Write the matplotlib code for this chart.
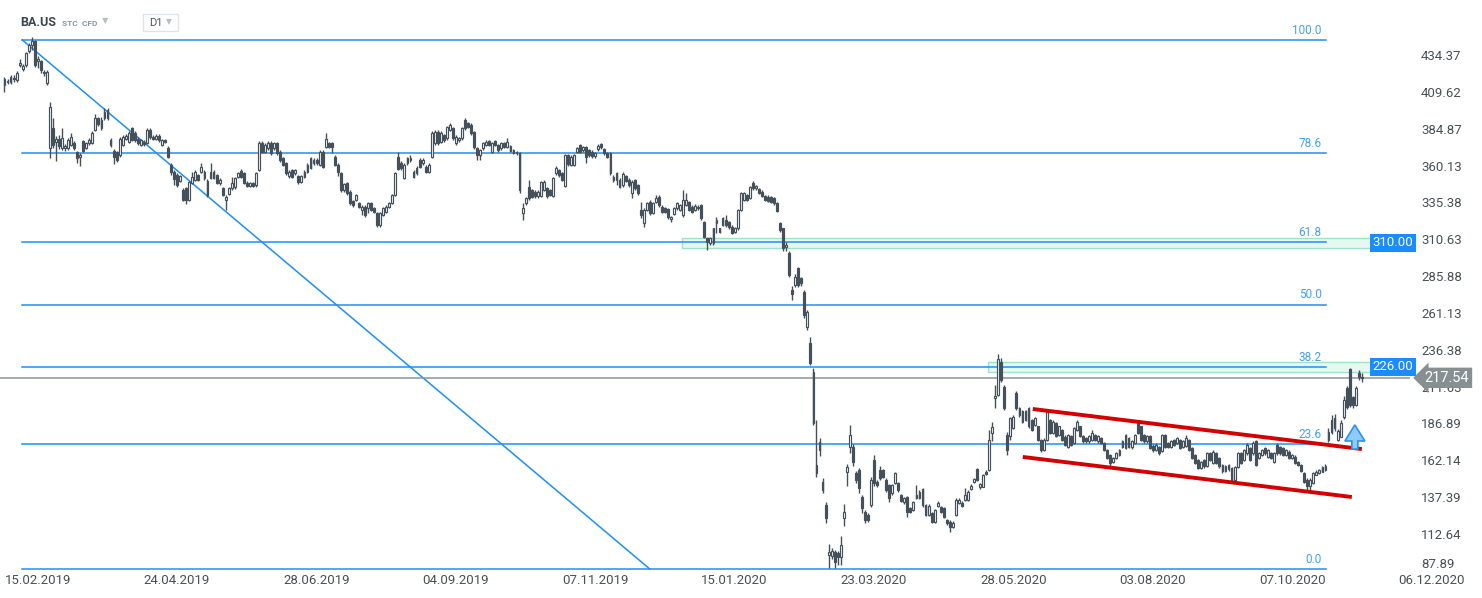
import numpy as np
import matplotlib
matplotlib.use("Agg")
import matplotlib.pyplot as plt
from matplotlib.patches import Rectangle, Polygon

plt.rcParams['font.family'] = ['Roboto', 'DejaVu Sans']

# BA.US daily candles (15.02.2019 .. late 11.2020)
opens = [
    414.2, 416.1, 416.5, 419.0, 417.5, 427.7, 425.0, 427.7, 437.0, 441.0,
    443.5, 430.0, 430.0, 422.5, 415.8, 371.7, 385.4, 376.0, 378.0, 371.7,
    372.0, 372.0, 374.0, 375.0, 369.0, 366.0, 376.5, 372.0, 375.0, 375.3,
    384.0, 392.0, 385.0, 392.0, 397.4, 377.0, 370.0, 369.0, 367.0, 374.0,
    378.0, 376.0, 385.0, 382.0, 378.0, 374.0, 376.0, 375.3, 384.0, 379.0,
    378.0, 380.0, 374.0, 377.0, 372.0, 360.5, 356.0, 354.0, 350.0, 343.7,
    344.8, 337.0, 348.2, 350.4, 353.8, 356.0, 356.0, 350.0, 352.0, 356.0,
    353.8, 348.2, 344.8, 337.0, 341.0, 344.8, 345.5, 352.2, 356.7, 354.9,
    348.6, 346.4, 348.2, 347.0, 357.2, 375.0, 369.5, 371.7, 375.5, 371.7,
    375.0, 369.4, 365.0, 361.6, 353.1, 357.2, 354.9, 353.0, 349.3, 352.2,
    356.0, 358.3, 361.6, 363.8, 360.5, 369.4, 372.8, 375.0, 375.0, 366.1,
    360.5, 354.9, 343.7, 348.2, 342.5, 336.0, 337.0, 334.7, 330.3, 332.5,
    331.4, 334.7, 331.4, 328.0, 320.2, 326.9, 329.1, 332.5, 334.7, 340.3,
    366.0, 362.0, 352.0, 361.6, 363.9, 356.0, 354.9, 363.9, 361.6, 359.4,
    356.0, 366.1, 375.0, 382.9, 376.2, 380.6, 378.4, 384.0, 385.1, 375.0,
    377.3, 378.4, 390.7, 388.5, 387.4, 382.9, 371.7, 367.2, 371.7, 373.9,
    376.8, 369.4, 376.8, 373.9, 371.7, 375.0, 372.8, 373.3, 368.8, 369.4,
    368.8, 328.0, 335.2, 345.4, 343.7, 342.6, 339.7, 339.7, 343.7, 344.8,
    343.7, 339.7, 354.9, 357.2, 354.9, 346.4, 367.2, 360.5, 360.5, 369.4,
    373.9, 370.6, 372.8, 370.6, 369.4, 366.5, 371.0, 374.6, 371.0, 368.3,
    368.3, 350.4, 354.9, 350.4, 347.0, 353.3, 350.4, 341.5, 350.4, 347.0,
    330.3, 321.3, 330.3, 335.9, 328.0, 335.9, 339.2, 332.5, 331.4, 330.7,
    324.0, 327.6, 331.4, 330.3, 327.0, 333.6, 335.9, 332.5, 330.3, 331.4,
    333.6, 322.4, 311.2, 307.9, 307.9, 321.3, 317.9, 324.7, 323.5, 322.4,
    319.1, 315.7, 317.9, 330.3, 337.0, 340.3, 338.1, 348.2, 344.8, 344.1,
    342.6, 339.7, 339.2, 338.8, 338.1, 334.7, 321.3, 317.9, 305.6, 301.2,
    276.5, 279.9, 291.0, 284.4, 275.4, 252.0, 240.7, 221.7, 159.0, 174.7,
    147.8, 132.1, 98.5, 98.0, 100.8, 99.6, 97.4, 123.2, 154.5, 171.3,
    171.3, 153.4, 155.6, 137.7, 127.6, 125.4, 132.1, 162.3, 147.8, 155.6,
    155.6, 148.9, 145.6, 139.9, 146.7, 146.7, 138.8, 134.4, 137.7, 129.9,
    128.8, 136.6, 136.6, 142.7, 132.1, 125.4, 126.5, 121.0, 131.5, 131.0,
    129.9, 122.1, 121.0, 117.1, 125.4, 133.3, 133.7, 135.5, 135.5, 142.7,
    147.8, 156.1, 144.0, 144.5, 154.5, 155.6, 180.4, 203.9, 206.0, 228.0,
    211.7, 179.3, 178.2, 184.0, 207.3, 197.2, 195.0, 189.3, 197.2, 189.3,
    186.0, 184.9, 175.9, 169.2, 175.9, 189.3, 180.4, 187.1, 179.3, 182.6,
    178.0, 171.4, 178.2, 173.7, 182.6, 184.9, 178.2, 177.0, 174.8, 175.9,
    179.3, 174.8, 177.0, 173.7, 169.2, 165.8, 161.3, 163.6, 165.8, 171.4,
    170.3, 177.0, 170.9, 173.7, 188.2, 184.9, 179.3, 174.8, 178.2, 172.0,
    169.2, 171.4, 168.6, 179.3, 173.7, 171.4, 175.9, 173.7, 175.9, 171.4,
    172.0, 175.9, 170.3, 165.8, 162.5, 156.9, 162.5, 158.0, 166.9, 160.2,
    166.9, 163.6, 159.1, 154.7, 156.0, 156.9, 149.0, 157.9, 166.9, 162.5,
    166.9, 170.3, 166.9, 174.8, 163.6, 165.8, 170.3, 164.7, 166.9, 161.3,
    172.5, 171.4, 170.3, 165.8, 168.0, 163.6, 164.7, 161.0, 159.1, 153.5,
    149.0, 144.6, 146.8, 152.4, 153.5, 154.6, 155.8, 176.0, 189.3, 190.5,
    176.0, 178.0, 191.3, 210.7, 223.3, 204.7, 199.3, 220.8, 218.4,
]
highs = [
    419.6, 418.5, 420.8, 421.0, 423.6, 431.5, 428.4, 436.6, 442.5, 446.4,
    444.5, 433.5, 431.0, 424.5, 424.0, 403.0, 392.0, 380.0, 380.5, 385.0,
    374.5, 378.5, 382.0, 376.5, 370.0, 368.5, 377.5, 376.0, 378.5, 383.0,
    395.0, 393.0, 392.5, 399.0, 398.5, 378.5, 371.5, 370.0, 379.0, 380.5,
    381.5, 383.0, 386.0, 383.0, 379.0, 378.0, 377.0, 385.0, 385.0, 380.5,
    381.0, 381.0, 378.0, 378.0, 373.0, 362.0, 357.0, 355.0, 354.0, 345.0,
    345.5, 350.0, 356.0, 357.0, 354.5, 362.0, 357.0, 351.0, 362.0, 357.0,
    354.5, 351.5, 345.5, 340.0, 345.5, 352.6, 352.5, 356.0, 357.5, 355.5,
    349.5, 349.0, 349.0, 356.0, 376.5, 376.5, 375.0, 376.5, 376.5, 376.0,
    376.0, 370.5, 366.0, 362.5, 357.0, 358.0, 358.0, 354.0, 354.0, 357.0,
    361.5, 366.0, 365.0, 365.0, 370.5, 370.5, 381.8, 376.0, 376.0, 367.0,
    361.5, 355.5, 348.5, 349.0, 343.5, 337.0, 341.0, 335.5, 333.5, 333.5,
    335.5, 335.5, 332.5, 329.0, 329.0, 332.5, 333.5, 335.5, 341.0, 356.0,
    369.4, 363.0, 361.5, 366.0, 367.0, 357.0, 359.5, 365.0, 365.0, 360.5,
    361.5, 383.0, 384.0, 384.0, 383.0, 381.5, 387.0, 389.0, 386.0, 380.5,
    379.5, 386.0, 392.0, 389.5, 388.5, 383.5, 372.5, 371.5, 376.0, 377.5,
    377.5, 376.0, 377.5, 374.5, 376.0, 376.0, 378.4, 374.0, 371.5, 370.0,
    369.5, 334.7, 339.0, 350.4, 344.5, 343.5, 343.5, 350.0, 350.5, 345.5,
    344.5, 352.5, 359.5, 358.0, 355.5, 368.0, 368.0, 367.0, 368.0, 372.5,
    374.5, 373.5, 373.5, 371.5, 370.5, 369.5, 374.5, 375.5, 372.0, 369.0,
    369.0, 353.5, 356.0, 351.5, 355.5, 354.0, 351.5, 350.5, 351.0, 348.0,
    335.9, 331.5, 335.5, 337.0, 335.5, 340.3, 340.0, 333.5, 332.0, 331.5,
    326.5, 332.5, 335.5, 334.5, 343.7, 341.5, 336.5, 333.5, 334.0, 333.5,
    334.5, 323.0, 312.0, 312.0, 318.5, 325.8, 318.5, 325.5, 327.0, 323.0,
    320.0, 319.0, 331.0, 342.5, 342.5, 341.0, 346.5, 349.5, 347.0, 345.0,
    343.5, 340.5, 340.0, 339.5, 338.8, 335.5, 322.0, 318.5, 308.5, 303.0,
    279.0, 287.0, 292.0, 285.5, 276.5, 263.0, 245.0, 224.0, 189.2, 177.0,
    150.0, 134.0, 106.0, 103.0, 102.0, 101.0, 111.0, 133.0, 160.0, 185.9,
    173.0, 155.0, 157.0, 139.0, 128.5, 126.5, 151.0, 166.0, 149.0, 158.0,
    156.5, 150.0, 146.5, 146.5, 154.5, 147.5, 139.5, 137.5, 138.5, 130.5,
    135.0, 145.6, 142.0, 143.5, 133.0, 132.5, 127.5, 129.5, 135.0, 131.5,
    130.5, 123.0, 122.0, 121.5, 136.5, 136.5, 134.5, 143.3, 142.0, 146.0,
    150.5, 157.0, 147.0, 153.0, 155.5, 182.5, 188.0, 213.0, 233.7, 230.8,
    213.0, 181.0, 191.5, 192.5, 208.5, 198.0, 196.0, 196.0, 198.0, 190.0,
    191.5, 185.5, 176.5, 177.0, 196.0, 190.0, 189.0, 188.0, 185.5, 183.5,
    179.0, 180.0, 179.0, 184.5, 189.0, 185.5, 179.0, 178.0, 179.0, 182.6,
    180.0, 179.0, 178.0, 174.5, 170.0, 166.5, 164.5, 167.5, 170.0, 175.5,
    180.0, 177.5, 175.5, 180.0, 189.5, 185.5, 180.0, 179.0, 179.0, 173.0,
    173.5, 172.0, 180.0, 180.0, 174.5, 175.5, 176.5, 178.0, 176.5, 175.5,
    179.3, 176.5, 171.0, 166.5, 163.0, 162.0, 163.0, 167.5, 167.5, 169.0,
    167.5, 164.5, 160.0, 159.0, 160.0, 157.5, 158.5, 167.5, 167.5, 170.0,
    173.5, 171.0, 175.0, 175.5, 167.5, 170.0, 171.0, 170.0, 167.5, 167.5,
    173.5, 172.0, 171.0, 170.0, 169.0, 166.5, 165.5, 162.0, 160.0, 154.5,
    150.0, 150.0, 154.5, 155.5, 156.5, 158.5, 159.5, 183.8, 192.7, 193.0,
    183.0, 189.0, 205.0, 212.0, 224.0, 205.5, 212.0, 222.5, 220.5,
]
lows = [
    409.5, 414.8, 415.2, 416.5, 416.4, 426.3, 423.8, 426.5, 435.6, 438.0,
    426.0, 425.5, 422.5, 420.5, 414.5, 365.0, 371.7, 363.0, 371.5, 370.5,
    370.0, 370.8, 373.0, 370.5, 362.0, 360.0, 369.0, 371.0, 374.0, 374.5,
    383.0, 386.5, 384.0, 391.0, 390.5, 372.5, 361.0, 362.5, 366.0, 373.0,
    377.0, 375.0, 376.5, 376.0, 374.0, 373.0, 373.5, 374.5, 378.0, 377.0,
    377.0, 376.0, 373.0, 375.0, 365.0, 353.8, 347.0, 346.0, 349.0, 336.0,
    334.0, 336.0, 347.5, 349.5, 349.5, 355.0, 350.5, 339.0, 351.0, 351.0,
    347.5, 347.0, 339.5, 330.0, 340.0, 344.0, 344.5, 351.5, 351.5, 347.5,
    345.5, 345.5, 345.5, 346.0, 356.5, 368.5, 368.5, 370.5, 367.5, 370.5,
    367.0, 362.5, 359.5, 353.5, 352.0, 351.5, 354.0, 348.0, 348.5, 351.5,
    355.0, 357.5, 360.5, 360.5, 359.5, 358.5, 372.0, 372.0, 368.3, 359.5,
    353.0, 342.5, 342.5, 340.5, 333.5, 332.5, 336.0, 331.5, 326.9, 325.5,
    328.0, 329.5, 328.0, 319.0, 319.0, 326.0, 328.0, 331.5, 334.0, 339.5,
    357.0, 357.0, 351.0, 360.5, 362.5, 351.5, 354.0, 358.5, 360.5, 355.0,
    355.0, 365.0, 374.0, 374.0, 375.0, 376.0, 377.5, 383.0, 377.0, 374.0,
    376.0, 377.5, 384.0, 385.0, 380.5, 371.5, 363.8, 363.8, 370.5, 373.0,
    373.0, 368.5, 373.0, 369.5, 370.5, 372.0, 372.0, 369.0, 368.0, 367.5,
    342.0, 323.5, 333.6, 337.0, 338.0, 338.5, 338.5, 339.0, 343.0, 338.5,
    339.5, 339.0, 354.0, 352.5, 349.5, 345.5, 360.0, 359.5, 359.5, 368.5,
    368.5, 369.5, 361.6, 366.0, 365.5, 365.5, 370.0, 371.5, 367.5, 365.0,
    354.0, 349.0, 347.0, 345.0, 346.0, 349.0, 346.0, 338.1, 344.0, 340.5,
    325.0, 319.0, 329.5, 327.0, 327.5, 335.0, 332.5, 328.0, 328.0, 324.5,
    322.5, 327.0, 330.5, 329.5, 325.8, 333.0, 329.5, 328.0, 329.5, 330.5,
    323.5, 311.5, 303.4, 306.5, 307.0, 314.6, 314.5, 319.5, 319.0, 317.5,
    314.0, 314.5, 317.0, 329.5, 336.0, 336.0, 337.5, 344.0, 344.0, 341.0,
    339.0, 336.0, 335.5, 335.0, 333.5, 329.0, 315.5, 303.0, 303.0, 285.0,
    270.0, 278.5, 278.5, 279.5, 258.0, 249.7, 226.0, 186.0, 151.0, 165.0,
    140.0, 120.0, 89.5, 96.0, 90.0, 92.0, 92.0, 118.0, 145.0, 167.0,
    158.0, 147.0, 140.0, 127.0, 120.0, 121.0, 131.0, 145.0, 144.0, 149.0,
    150.0, 141.0, 134.0, 139.0, 146.0, 141.0, 134.0, 133.0, 124.3, 126.5,
    128.0, 136.0, 136.0, 131.0, 124.5, 124.5, 120.0, 120.0, 130.5, 126.5,
    123.5, 118.5, 114.2, 116.5, 124.5, 132.5, 130.5, 135.0, 134.5, 142.0,
    147.0, 148.0, 142.7, 144.0, 152.0, 155.0, 175.0, 197.2, 205.0, 214.5,
    196.0, 165.8, 176.0, 183.0, 196.0, 191.5, 187.0, 188.5, 184.0, 181.5,
    185.0, 175.0, 168.0, 168.5, 175.0, 179.5, 179.5, 177.5, 178.5, 175.0,
    171.5, 170.5, 171.5, 173.0, 182.0, 177.5, 174.0, 174.0, 174.0, 175.0,
    175.0, 174.0, 173.0, 168.5, 163.0, 157.4, 160.5, 163.0, 165.0, 170.5,
    169.5, 170.3, 170.0, 173.0, 179.5, 175.0, 174.0, 174.0, 169.5, 168.0,
    168.5, 166.0, 168.0, 170.5, 170.5, 170.5, 171.5, 173.0, 169.5, 170.5,
    171.0, 168.5, 163.0, 159.5, 156.0, 156.0, 157.0, 157.5, 161.5, 159.5,
    159.5, 157.0, 153.5, 154.0, 155.0, 147.9, 146.8, 157.0, 159.5, 162.0,
    166.0, 161.5, 166.0, 158.0, 163.0, 165.0, 166.0, 164.0, 163.0, 160.5,
    166.0, 166.0, 165.0, 165.0, 163.0, 163.0, 159.5, 158.0, 154.0, 147.0,
    141.2, 141.5, 146.0, 152.0, 153.0, 154.0, 155.0, 174.5, 180.0, 182.0,
    175.0, 177.5, 190.0, 196.5, 198.0, 197.5, 198.5, 216.0, 214.5,
]
closes = [
    418.3, 417.1, 419.5, 418.0, 422.5, 429.2, 427.0, 435.5, 441.0, 444.0,
    427.7, 432.0, 424.0, 423.0, 423.2, 399.6, 374.0, 378.0, 373.0, 378.4,
    373.0, 377.0, 379.0, 372.0, 365.0, 367.0, 370.0, 375.0, 377.0, 382.0,
    392.0, 388.0, 391.0, 396.0, 392.0, 374.0, 366.0, 364.0, 378.0, 379.0,
    380.0, 382.0, 377.5, 377.0, 375.0, 377.0, 374.5, 384.0, 379.0, 378.0,
    380.0, 377.0, 377.0, 376.0, 366.0, 356.0, 351.0, 347.0, 353.0, 337.0,
    337.0, 349.3, 352.6, 356.0, 350.4, 359.4, 351.5, 340.3, 356.0, 352.0,
    348.2, 350.4, 340.3, 339.2, 344.8, 348.2, 351.5, 354.9, 352.6, 348.2,
    346.4, 348.2, 346.4, 355.3, 375.0, 369.5, 374.0, 375.5, 368.8, 375.0,
    368.3, 363.8, 360.5, 354.9, 356.0, 352.6, 357.2, 349.3, 353.1, 356.0,
    360.5, 365.0, 363.8, 361.6, 369.4, 359.4, 377.7, 372.8, 372.8, 360.5,
    356.0, 343.7, 347.5, 341.5, 334.7, 333.6, 340.3, 332.5, 332.5, 326.9,
    334.7, 330.3, 329.1, 320.2, 328.0, 331.4, 332.5, 334.7, 340.3, 354.9,
    358.0, 358.3, 360.5, 364.9, 365.0, 352.6, 358.3, 359.4, 363.9, 356.0,
    360.5, 381.8, 382.9, 375.0, 381.8, 377.3, 386.2, 387.4, 378.4, 379.5,
    378.4, 385.1, 385.1, 386.2, 381.8, 372.5, 367.2, 370.6, 375.0, 376.2,
    373.9, 375.0, 373.9, 370.6, 375.0, 372.8, 376.2, 370.1, 370.6, 368.3,
    343.7, 331.4, 338.1, 338.1, 339.2, 339.7, 342.6, 349.3, 349.3, 339.7,
    340.3, 351.5, 358.3, 353.8, 350.4, 367.2, 360.9, 366.1, 367.2, 371.7,
    369.4, 372.8, 366.1, 367.2, 366.5, 368.3, 373.3, 372.8, 368.3, 366.1,
    354.9, 352.6, 350.4, 345.9, 354.4, 350.0, 347.0, 349.3, 344.8, 341.5,
    326.9, 330.3, 334.7, 328.0, 334.7, 338.1, 333.6, 329.1, 329.1, 325.8,
    325.8, 331.4, 334.7, 333.6, 337.0, 337.0, 330.3, 329.1, 332.9, 332.5,
    324.7, 312.3, 309.0, 311.2, 317.9, 323.5, 315.7, 320.2, 320.2, 318.6,
    315.1, 317.9, 330.3, 341.5, 341.5, 337.0, 345.9, 344.8, 346.4, 341.9,
    339.7, 337.0, 336.5, 335.9, 334.7, 329.8, 316.8, 304.5, 307.0, 286.6,
    273.8, 285.5, 279.9, 281.0, 259.7, 262.0, 227.3, 187.0, 153.4, 169.1,
    142.2, 123.2, 100.8, 101.0, 94.1, 97.4, 105.3, 127.6, 157.9, 179.2,
    161.2, 148.9, 143.3, 129.9, 122.1, 122.1, 148.9, 146.7, 145.6, 150.0,
    151.2, 142.2, 136.6, 145.6, 153.4, 142.2, 135.0, 136.6, 127.7, 127.7,
    134.4, 138.8, 141.1, 132.1, 125.4, 131.5, 121.0, 128.8, 133.7, 127.7,
    124.3, 119.8, 117.6, 120.3, 135.5, 135.5, 131.5, 138.8, 141.1, 144.9,
    149.4, 148.9, 146.2, 152.3, 152.7, 176.0, 184.4, 205.0, 230.5, 216.2,
    197.2, 169.2, 190.5, 191.0, 197.2, 192.7, 188.2, 195.0, 184.9, 182.6,
    190.5, 175.9, 169.2, 176.0, 194.9, 180.4, 188.2, 178.2, 184.9, 175.9,
    172.5, 179.3, 172.5, 183.8, 188.2, 178.2, 174.8, 175.0, 178.2, 180.4,
    175.9, 178.2, 173.7, 169.2, 163.6, 160.2, 163.6, 166.9, 169.2, 174.8,
    179.3, 171.0, 174.8, 179.3, 180.4, 175.9, 174.8, 178.2, 170.3, 169.2,
    172.5, 166.9, 179.3, 171.4, 171.4, 174.8, 172.5, 177.1, 170.3, 174.8,
    176.9, 169.2, 163.6, 160.2, 156.9, 161.3, 158.0, 166.9, 162.5, 168.0,
    160.2, 158.0, 154.7, 158.0, 159.0, 149.0, 157.9, 166.9, 160.2, 169.2,
    172.5, 162.5, 173.7, 159.1, 166.9, 169.2, 167.0, 169.2, 163.6, 166.9,
    166.9, 166.9, 165.8, 169.2, 163.6, 165.8, 160.2, 159.1, 154.7, 147.9,
    145.0, 149.0, 153.5, 154.6, 155.8, 157.9, 158.5, 181.0, 181.3, 183.8,
    182.0, 187.3, 202.7, 198.0, 199.3, 199.3, 210.7, 218.1, 217.54,
]

price_ticks = [434.37, 409.62, 384.87, 360.13, 335.38, 310.63, 285.88, 261.13,
               236.38, 211.63, 186.89, 162.14, 137.39, 112.64, 87.89]
date_labels = ['15.02.2019', '24.04.2019', '28.06.2019', '04.09.2019', '07.11.2019',
               '15.01.2020', '23.03.2020', '28.05.2020', '03.08.2020', '07.10.2020',
               '06.12.2020']
fib_ratios = [100.0, 78.6, 61.8, 50.0, 38.2, 23.6, 0.0]
fib_high = 444.4
fib_low = 89.1
zone_bounds = [(304.8, 311.5), (221.5, 228.2)]
zone_starts = [223.6, 324.6]
zone_labels = ['310.00', '226.00']
last_price = 217.54
channel_upper = [(339.4, 196.6), (448.0, 169.7)]
channel_lower = [(336.1, 164.4), (444.7, 137.5)]


def draw_candles(ax):
    o = np.array(opens)
    c = np.array(closes)
    h = np.maximum(np.array(highs), np.maximum(o, c))
    l = np.minimum(np.array(lows), np.minimum(o, c))
    idx = np.arange(len(c))
    dark = '#44515a'
    up = c >= o
    ax.vlines(idx, l, h, color=dark, lw=1.0, zorder=3)
    bottom = np.minimum(o, c)
    height = np.maximum(np.abs(c - o), 0.5)
    ax.bar(idx, height, width=0.62, bottom=bottom,
           color=np.where(up, 'white', dark), edgecolor=dark, linewidth=0.85, zorder=4)


def main():
    fig = plt.figure(figsize=(14.82, 5.98), dpi=100)
    ax = fig.add_axes([0, 27 / 598, 1410 / 1482, 571 / 598])
    ax.set_xlim(-1.485, 463.9)
    ax.set_ylim(87.8, 471.3)
    for s in ax.spines.values():
        s.set_visible(False)

    fib_color = '#1e8ff5'
    x0, x1 = 5.9, 436.1
    for r in fib_ratios:
        lvl = fib_low + (fib_high - fib_low) * r / 100
        ax.plot([x0, x1], [lvl, lvl], color=fib_color, lw=1.1, zorder=2)
        ax.annotate(f'{r:.1f}', xy=(x1, lvl), xytext=(-3, 2.5), textcoords='offset points',
                    ha='right', va='bottom', color='#44a0f2', fontsize=8.5, zorder=6)
    ax.plot([x0, 213.0], [fib_high, fib_low], color=fib_color, lw=1.1, zorder=2)

    zone_end = 451.3
    for (lo, hi), xs, lab in zip(zone_bounds, zone_starts, zone_labels):
        ax.add_patch(Rectangle((xs, lo), zone_end - xs, hi - lo, facecolor='#e7f8f1',
                               edgecolor='#9ee2c8', lw=1.0, zorder=1.5, clip_on=False))
        ax.text(458.3, (lo + hi) / 2, lab, ha='center', va='center', color='white',
                fontsize=9.5, zorder=8, clip_on=False,
                bbox=dict(boxstyle='square,pad=0.18', fc='#1a8cff', ec='none'))

    ax.axhline(last_price, color='#8c9498', lw=1.1, zorder=2.5)

    draw_candles(ax)

    for seg in (channel_upper, channel_lower):
        xs, ys = zip(*seg)
        ax.plot(xs, ys, color='#d20000', lw=2.8, solid_capstyle='butt', zorder=5)

    # breakout arrow
    cx, tip, base, bot = 445.7, 185.9, 175.1, 169.7
    pts = [(cx, tip), (cx + 3.3, base), (cx + 1.0, base), (cx + 1.0, bot),
           (cx - 1.0, bot), (cx - 1.0, base), (cx - 3.3, base)]
    ax.add_patch(Polygon(pts, closed=True, fc='#8fcaf9', ec='#2a93f0', lw=1.2, zorder=6))

    ax.yaxis.tick_right()
    ax.set_yticks(price_ticks)
    ax.set_yticklabels([f'{v:.2f}' for v in price_ticks])
    ax.tick_params(axis='y', length=0, pad=8, labelsize=9.5, labelcolor='#4a5055')
    ax.get_yticklabels()[-1].set_va('bottom')

    ax.set_xticks(np.arange(len(date_labels)) * 46)
    ax.set_xticklabels(date_labels)
    ax.tick_params(axis='x', length=0, pad=2, labelsize=9.5, labelcolor='#4a5055')
    for lbl in ax.get_xticklabels():
        lbl.set_ha('left')

    ax.text(476.0, last_price, f'{last_price:.2f}', ha='center', va='center', color='white',
            fontsize=10.5, zorder=9, clip_on=False,
            bbox=dict(boxstyle='larrow,pad=0.22', fc='#878f93', ec='none'))

    # header
    fig.text(20 / 1482, 1 - 22 / 598, 'BA.US', fontsize=9, weight='bold', color='#3c4650', va='center')
    fig.text(62 / 1482, 1 - 23 / 598, 'STC  CFD', fontsize=6, weight='bold', color='#8e979d', va='center')
    fig.text(102 / 1482, 1 - 21 / 598, '▼', fontsize=6, color='#b8bec2', va='center',
             family=['DejaVu Sans'])
    fig.add_artist(Rectangle((143 / 1482, 1 - 31 / 598), 35 / 1482, 17 / 598,
                             transform=fig.transFigure, fc='white', ec='#dfe3e6', lw=1))
    fig.text(149 / 1482, 1 - 22.5 / 598, 'D1', fontsize=8, color='#4a5560', va='center')
    fig.text(166 / 1482, 1 - 22 / 598, '▼', fontsize=5.5, color='#b8bec2', va='center',
             family=['DejaVu Sans'])

    fig.savefig('out.png', dpi=100)


if __name__ == "__main__":
    main()
